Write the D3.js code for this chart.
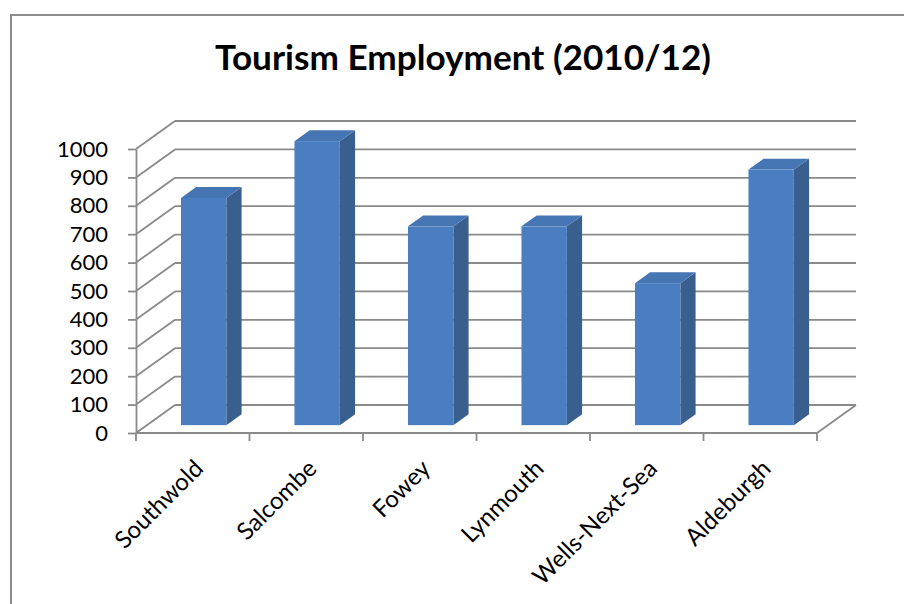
<!DOCTYPE html>
<html>
<head>
<meta charset="utf-8">
<script src="https://cdn.jsdelivr.net/npm/d3@7"></script>
<style>
  html, body { margin: 0; padding: 0; background: #fff; }
  svg { display: block; }
  text { font-family: Lato, "Open Sans", sans-serif; fill: #000; }
</style>
</head>
<body>
<svg id="chart" width="904" height="604"></svg>
<script>
// Tourism employment by town
const categories = ["Southwold", "Salcombe", "Fowey", "Lynmouth", "Wells-Next-Sea", "Aldeburgh"];
const values = [800, 1000, 700, 700, 500, 900];
const yTicks = [0, 100, 200, 300, 400, 500, 600, 700, 800, 900, 1000];
const chartTitle = "Tourism Employment (2010/12)";

const svg = d3.select("#chart");

// Front plane of the 3D box and the depth offset toward the back wall
const plotLeft = 136, plotRight = 817, plotBottom = 433, plotTop = 149;
const DX = 39, DY = -28;
const depthStart = 0.28, depthEnd = 0.67;

const x = d3.scaleBand().domain(categories).range([plotLeft, plotRight]).paddingInner(0).paddingOuter(0);
const y = d3.scaleLinear().domain([0, 1000]).range([plotBottom, plotTop]);
const barWidth = x.bandwidth() * 0.4;

const gridColor = "#8a8a8a";

// Outer chart frame
svg.append("rect")
  .attr("x", 11).attr("y", 15)
  .attr("width", 904).attr("height", 604)
  .attr("fill", "none").attr("stroke", "#8c8c8c").attr("stroke-width", 2);

// Title
const titleText = svg.append("text")
  .attr("x", 463).attr("y", 70)
  .attr("text-anchor", "middle")
  .attr("font-weight", 700)
  .attr("font-size", 32)
  .text(chartTitle);
{
  const w = titleText.node().getComputedTextLength();
  titleText.attr("font-size", 32 * 496 / w);
}

const grid = svg.append("g").attr("stroke", gridColor).attr("stroke-width", 1.8).attr("fill", "none");

// Back wall gridlines
grid.selectAll("line.back").data(yTicks).join("line")
  .attr("class", "back")
  .attr("x1", plotLeft + DX).attr("x2", plotRight + DX)
  .attr("y1", d => y(d) + DY).attr("y2", d => y(d) + DY);

// Side wall diagonals
grid.selectAll("line.side").data(yTicks).join("line")
  .attr("class", "side")
  .attr("x1", plotLeft).attr("x2", plotLeft + DX)
  .attr("y1", d => y(d)).attr("y2", d => y(d) + DY);

// Floor: front edge and right edge
grid.append("line")
  .attr("x1", plotLeft).attr("x2", plotRight)
  .attr("y1", plotBottom).attr("y2", plotBottom);
grid.append("line")
  .attr("x1", plotRight).attr("x2", plotRight + DX)
  .attr("y1", plotBottom).attr("y2", plotBottom + DY);

// Category tick marks at band boundaries
const bounds = categories.map(c => x(c)).concat([plotRight]);
grid.selectAll("line.xtick").data(bounds).join("line")
  .attr("class", "xtick")
  .attr("x1", d => d).attr("x2", d => d)
  .attr("y1", plotBottom).attr("y2", plotBottom + 8);

// Value axis
const yAxis = svg.append("g")
  .attr("transform", `translate(${plotLeft},0)`)
  .call(d3.axisLeft(y).tickValues(yTicks).tickSize(8).tickSizeOuter(0).tickPadding(20).tickFormat(d3.format("d")));
yAxis.select(".domain").attr("stroke", gridColor).attr("stroke-width", 1.8);
yAxis.selectAll(".tick line").attr("stroke", gridColor).attr("stroke-width", 1.8);
yAxis.selectAll(".tick text")
  .attr("font-family", "Lato, 'Open Sans', sans-serif")
  .attr("font-size", 22)
  .attr("fill", "#000");

// 3D columns
const ox = DX * depthStart, oy = DY * depthStart;
const bx = DX * (depthEnd - depthStart), by = DY * (depthEnd - depthStart);
const bars = svg.append("g");
categories.forEach((c, i) => {
  const cx = x(c) + x.bandwidth() / 2 + ox;
  const xl = cx - barWidth / 2, xr = cx + barWidth / 2;
  const yb = y(0) + oy, yt = y(values[i]) + oy;
  const g = bars.append("g");
  // right side face
  g.append("path")
    .attr("d", `M${xr},${yb}L${xr + bx},${yb + by}L${xr + bx},${yt + by}L${xr},${yt}Z`)
    .attr("fill", "#395f8f");
  // top face
  g.append("path")
    .attr("d", `M${xl},${yt}L${xl + bx},${yt + by}L${xr + bx},${yt + by}L${xr},${yt}Z`)
    .attr("fill", "#4675b3");
  // front face
  g.append("rect")
    .attr("x", xl).attr("y", yt)
    .attr("width", barWidth).attr("height", yb - yt)
    .attr("fill", "#4a7ec0");
});

// Rotated category labels
svg.append("g").selectAll("text").data(categories).join("text")
  .attr("text-anchor", "end")
  .attr("font-size", 24)
  .attr("transform", c => `translate(${x(c) + x.bandwidth() / 2 + 12},470) rotate(-45)`)
  .text(c => c);
</script>
</body>
</html>
